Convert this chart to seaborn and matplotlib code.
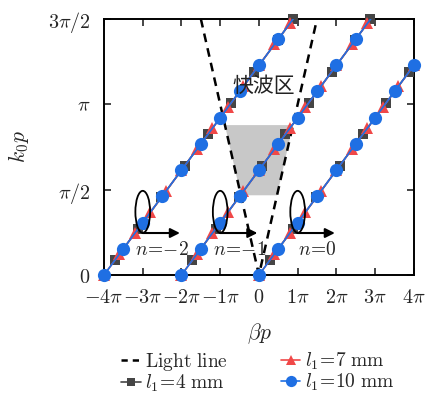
import numpy as np
import pandas as pd
import matplotlib
matplotlib.use("Agg")
import matplotlib.pyplot as plt
import seaborn as sns
from matplotlib.patches import Ellipse, Polygon
from matplotlib.lines import Line2D

# ---------------- data (all values in units of pi) ----------------
# Floquet harmonics shown
harmonics = [-2, -1, 0]
harmonic_labels = [r"$n\!=\!{-}2$", r"$n\!=\!{-}1$", r"$n\!=\!0$"]

# fundamental (n = 0) dispersion samples: beta*p/pi and k0*p/pi
beta_l4 = [0.28, 0.88, 1.48, 2.08, 2.68, 3.28, 3.88, 4.48, 4.88]
k_l4 = [0.086, 0.270, 0.454, 0.639, 0.823, 1.007, 1.191, 1.375, 1.498]

beta_l7 = [0.0, 0.4, 0.8, 1.2, 1.6, 2.0, 2.4, 2.8, 3.2, 3.6, 4.0, 4.4, 4.8]
k_l7 = [0.0, 0.123, 0.246, 0.368, 0.491, 0.614, 0.737, 0.860, 0.982, 1.105, 1.228, 1.351, 1.474]

beta_l10 = [0.0, 0.5, 1.0, 1.5, 2.0, 2.5, 3.0, 3.5, 4.0, 4.5, 5.0]
k_l10 = [0.0, 0.154, 0.307, 0.461, 0.614, 0.768, 0.921, 1.075, 1.228, 1.382, 1.535]

# light line
light_beta = [-1.5, 0.0, 1.5]
light_k = [1.5, 0.0, 1.5]

# fast-wave region bounds (k0 p / pi)
fast_k_low = 0.467
fast_k_high = 0.878

x_ticks = [-4, -3, -2, -1, 0, 1, 2, 3, 4]
x_ticklabels = [r"$-4\pi$", r"$-3\pi$", r"$-2\pi$", r"$-1\pi$", r"$0$",
                r"$1\pi$", r"$2\pi$", r"$3\pi$", r"$4\pi$"]
y_ticks = [0, 0.5, 1.0, 1.5]
y_ticklabels = [r"$0$", r"$\pi/2$", r"$\pi$", r"$3\pi/2$"]

series_names = [r"$l_1\!=\!4\ \mathrm{mm}$", r"$l_1\!=\!7\ \mathrm{mm}$", r"$l_1\!=\!10\ \mathrm{mm}$"]
series_beta = [beta_l4, beta_l7, beta_l10]
series_k = [k_l4, k_l7, k_l10]
colors = ["#454545", "#f04848", "#1f6fe3"]
markers = ["s", "^", "o"]
msizes = [6.5, 8.5, 9.5]

# ---------------- style ----------------
sns.set_style("ticks")
plt.rcParams["mathtext.fontset"] = "cm"
plt.rcParams["font.family"] = ["DejaVu Serif"]

fig = plt.figure(figsize=(4.28, 3.94), dpi=100)
ax = fig.add_axes([0.243, 0.302, 0.724, 0.65])

# fast-wave shaded region
poly = Polygon([(-fast_k_high, fast_k_high), (fast_k_high, fast_k_high),
                (fast_k_low, fast_k_low), (-fast_k_low, fast_k_low)],
               closed=True, facecolor="#c8c8c8", edgecolor="none", zorder=1)
ax.add_patch(poly)

# light line
light_df = pd.DataFrame({"beta": light_beta, "k": light_k})
sns.lineplot(data=light_df, x="beta", y="k", sort=False, color="black",
             linestyle=(0, (3.5, 2.5)), linewidth=1.8, ax=ax, zorder=2)

# dispersion curves
for s, (bvals, kvals) in enumerate(zip(series_beta, series_k)):
    for n in harmonics:
        df = pd.DataFrame({"beta": np.array(bvals) + 2 * n, "k": kvals})
        sns.lineplot(data=df, x="beta", y="k", sort=False, color=colors[s],
                     linewidth=1.2, ax=ax, zorder=3 + s)
        dm = df[(df["beta"] <= 4.001) & (df["k"] <= 1.5001)]
        ax.plot(dm["beta"], dm["k"], linestyle="none", marker=markers[s],
                markersize=msizes[s], color=colors[s], markeredgewidth=0,
                clip_on=False, zorder=3.5 + s)

# harmonic annotations
for n, lab in zip(harmonics, harmonic_labels):
    cx = -1 + 2 * (n + 1)  # -3, -1, 1
    e = Ellipse((cx, 0.37), width=0.38, height=0.246, fill=False,
                edgecolor="black", linewidth=1.3, zorder=8)
    ax.add_patch(e)
    ax.annotate("", xy=(cx + 0.96, 0.246), xytext=(cx, 0.246),
                arrowprops=dict(arrowstyle="-|>", color="black", lw=1.5,
                                mutation_scale=14, shrinkA=0, shrinkB=0),
                zorder=8)
    ax.text(cx + 0.5, 0.145, lab, fontsize=14, ha="center", va="center", zorder=9)

ax.text(0.12, 1.11, "快波区", fontsize=15, ha="center", va="center",
        family=["Noto Sans CJK SC", "DejaVu Sans"], color="#222222", zorder=9)

ax.set_xlim(-4, 4)
ax.set_ylim(0, 1.5)
ax.set_xticks(x_ticks)
ax.set_xticklabels(x_ticklabels, fontsize=14.5)
ax.set_yticks(y_ticks)
ax.set_yticklabels(y_ticklabels, fontsize=14.5)
ax.tick_params(direction="in", top=True, right=True, length=5, width=1.2)
ax.tick_params(axis="x", pad=9)
ax.tick_params(axis="y", pad=10)
for sp in ax.spines.values():
    sp.set_linewidth(1.4)
    sp.set_color("black")

ax.set_xlabel(r"$\beta p$", fontsize=15.5, labelpad=11)
ax.set_ylabel(r"$k_0 p$", fontsize=15.5, labelpad=12)

handles = [Line2D([], [], color="black", linestyle=(0, (2.5, 2)), linewidth=1.8)]
for s in range(3):
    handles.append(Line2D([], [], color=colors[s], marker=markers[s],
                          markersize=msizes[s] * 0.85, linewidth=1.2, markeredgewidth=0))
labels = [r"$\mathrm{Light\ line}$"] + series_names
fig.legend(handles, labels, ncol=2, loc="upper left",
           bbox_to_anchor=(0.283, 0.110), frameon=False, fontsize=14,
           handlelength=1.0, handletextpad=0.25, columnspacing=2.7,
           labelspacing=0.0, borderaxespad=0, borderpad=0)

fig.savefig("out.png", dpi=100)
